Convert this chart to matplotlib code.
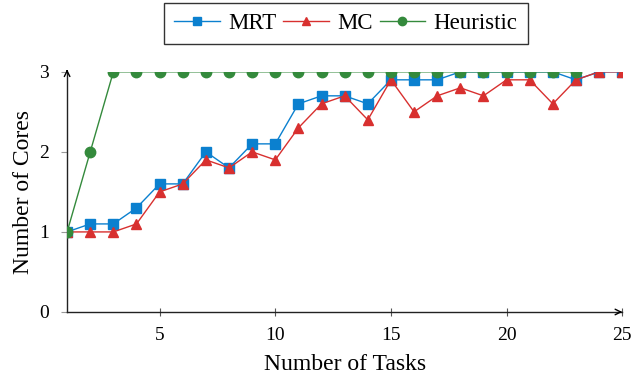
import matplotlib
matplotlib.use('Agg')
import matplotlib.pyplot as plt
import numpy as np

plt.rcParams['font.family'] = ['Liberation Serif', 'DejaVu Serif']

tasks = np.arange(1, 26)
mrt = [1, 1.1, 1.1, 1.3, 1.6, 1.6, 2.0, 1.8, 2.1, 2.1, 2.6, 2.7, 2.7, 2.6, 2.9,
       2.9, 2.9, 3, 3, 3, 3, 3, 2.9, 3, 3]
mc = [1, 1, 1, 1.1, 1.5, 1.6, 1.9, 1.8, 2.0, 1.9, 2.3, 2.6, 2.7, 2.4, 2.9,
      2.5, 2.7, 2.8, 2.7, 2.9, 2.9, 2.6, 2.9, 3, 3]
heur = [1, 2] + [3] * 21

blue = '#0b80cf'
red = '#d8302f'
green = '#348a3c'

fig = plt.figure(figsize=(6.33, 3.8), dpi=100)
ax = fig.add_axes([0.106, 0.179, 0.877, 0.632])

ax.plot(tasks, mrt, color=blue, marker='s', markersize=7, lw=1, label='MRT', zorder=3)
ax.plot(tasks, mc, color=red, marker='^', markersize=7, lw=1, label='MC', zorder=4)
ax.plot(tasks[:len(heur)], heur, color=green, marker='o', markersize=7.5, lw=1,
        label='Heuristic', zorder=5)

ax.set_xlim(1, 25)
ax.set_ylim(0, 3)
ax.set_xticks([5, 10, 15, 20, 25])
ax.set_yticks([0, 1, 2, 3])
ax.tick_params(axis='x', direction='inout', length=6, color='#555555', labelsize=14, pad=8)
ax.tick_params(axis='y', direction='out', length=4, color='#999999', labelsize=14, pad=9)
for s in ['top', 'right']:
    ax.spines[s].set_visible(False)
for s in ['left', 'bottom']:
    ax.spines[s].set_color('#222222')
    ax.spines[s].set_linewidth(1)

ax.annotate('', xy=(1.0, 0), xycoords='axes fraction', xytext=(0.99, 0),
            arrowprops=dict(arrowstyle='->', color='black', lw=1), annotation_clip=False)
ax.annotate('', xy=(0, 1.01), xycoords='axes fraction', xytext=(0, 0.99),
            arrowprops=dict(arrowstyle='->', color='black', lw=1), annotation_clip=False)

ax.set_xlabel('Number of Tasks', fontsize=17, labelpad=7)
ax.set_ylabel('Number of Cores', fontsize=17, labelpad=4)

leg = ax.legend(loc='upper center', bbox_to_anchor=(0.502, 1.2875), ncol=3, fontsize=16.5,
                frameon=True, fancybox=False, edgecolor='black', handlelength=2.0,
                columnspacing=0.3, handletextpad=0.35, borderpad=0.45, borderaxespad=0)
leg.get_frame().set_linewidth(1)
for h in leg.legend_handles:
    h.set_markersize(6)

fig.savefig('out.png', dpi=100)
